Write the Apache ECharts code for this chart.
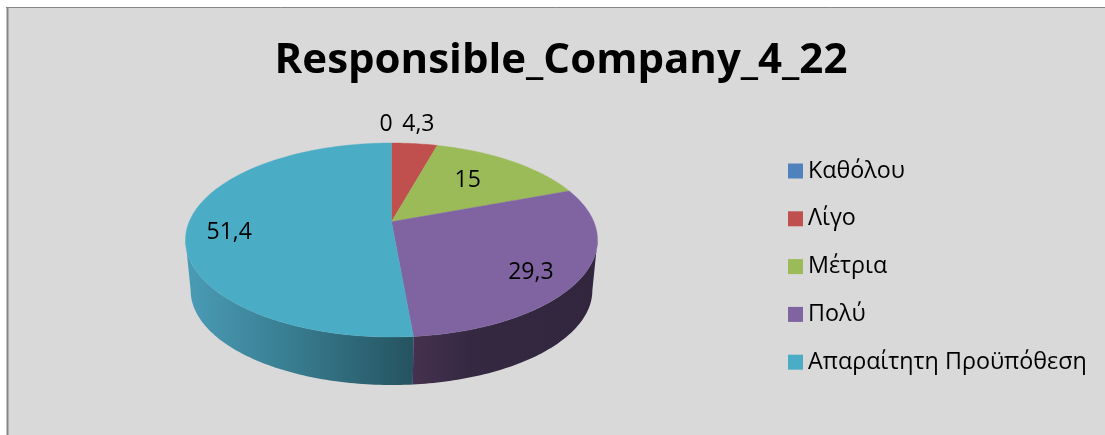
<!DOCTYPE html>
<html>
<head>
<meta charset="utf-8">
<style>html,body{margin:0;padding:0;background:#fff}#c{width:1105px;height:435px}</style>
<script src="https://cdn.jsdelivr.net/npm/echarts@6/dist/echarts.min.js"></script>
</head>
<body>
<div id="c"></div>
<script>
const chartTitle = 'Responsible_Company_4_22';
const categories = ['Καθόλου', 'Λίγο', 'Μέτρια', 'Πολύ', 'Απαραίτητη Προϋπόθεση'];
const values = [0, 4.3, 15, 29.3, 51.4];
const colors = ['#4f81bd', '#c0504d', '#9bbb59', '#8064a2', '#4bacc6'];
const wallStops = [
  null, null, null,
  ['#45314f', '#352942', '#32263e'],
  ['#4a9cb6', '#377a8d', '#25535f']
];
// Nudges from each slice's anchor point to where its label sits
const labelNudges = [[-5.5, -39.5], [10, -39.5], [-11, 3], [10.5, 13.5], [-20, 7.5]];

const FONT = '"Open Sans", sans-serif';
const TOP = { cx: 391.5, cy: 240, rx: 206, ry: 97 };
const TILT = 18.3 / 97;        // perspective strength of the pie's disc
const BASE_DROP = 50.4, BASE_SCALE = 0.975;
const RIM_LIMIT = Math.acos(-TILT);   // angle at which the rim turns away from the viewer
const total = values.reduce((a, b) => a + b, 0);

// Perspective projection of a point on the unit disc; angle is clockwise from 12 o'clock
function project(angle, r, scale, drop) {
  const u = r * Math.sin(angle), v = -r * Math.cos(angle);
  const w = 1 - TILT * v;
  const a = TOP.rx * Math.sqrt(1 - TILT * TILT);
  return [
    TOP.cx + scale * a * u / w,
    TOP.cy + drop + scale * (TOP.ry * v - TOP.ry * TILT) / w
  ];
}
function arc(from, to, scale, drop) {
  const n = Math.max(2, Math.ceil(Math.abs(to - from) / (Math.PI / 180)));
  const pts = [];
  for (let i = 0; i <= n; i++) pts.push(project(from + (to - from) * i / n, 1, scale, drop));
  return pts;
}

function renderSlice(index) {
  return function (params, api) {
    const value = api.value(0);
    const before = values.slice(0, index).reduce((a, b) => a + b, 0);
    const a0 = before / total * 2 * Math.PI;
    const a1 = (before + value) / total * 2 * Math.PI;
    const children = [];
    const lo = Math.max(a0, RIM_LIMIT), hi = Math.min(a1, 2 * Math.PI - RIM_LIMIT);
    if (wallStops[index] && hi > lo) {
      const top = arc(lo, hi, 1, 0);
      const base = arc(hi, lo, BASE_SCALE, BASE_DROP);
      const xs = top.concat(base).map(p => p[0]);
      const s = wallStops[index];
      const wallFill = {
        type: 'linear', global: true,
        x: Math.min.apply(null, xs), y: 0, x2: Math.max.apply(null, xs), y2: 0,
        colorStops: index === 3
          ? [{ offset: 0, color: s[0] }, { offset: 0.3, color: s[1] }, { offset: 1, color: s[2] }]
          : [{ offset: 0, color: s[0] }, { offset: 0.5, color: s[1] }, { offset: 1, color: s[2] }]
      };
      children.push({
        type: 'polygon',
        shape: { points: top.concat(base) },
        style: { fill: wallFill, stroke: null }
      });
    }
    if (value > 0) {
      const centre = project(0, 0, 1, 0);
      children.push({
        type: 'polygon',
        shape: { points: [centre].concat(arc(a0, a1, 1, 0)) },
        style: { fill: colors[index], stroke: colors[index], lineWidth: 0.4 }
      });
    }
    const anchor = project((a0 + a1) / 2, 0.7, 1, 0);
    children.push({
      type: 'text',
      z2: 10,
      style: {
        text: String(value).replace('.', ','),
        x: anchor[0] + labelNudges[index][0],
        y: anchor[1] + labelNudges[index][1],
        align: 'center', verticalAlign: 'middle',
        font: '23px ' + FONT, fill: '#000'
      }
    });
    return { type: 'group', children: children };
  };
}

const chart = echarts.init(document.getElementById('c'), null, { renderer: 'canvas' });
chart.setOption({
  animation: false,
  backgroundColor: '#ffffff',
  graphic: [
    { type: 'rect', z: -10, shape: { x: 7, y: 7, width: 1098, height: 428 }, style: { fill: '#d9d9d9' } },
    { type: 'line', z: -9, shape: { x1: 6, y1: 7.5, x2: 1105, y2: 7.5 }, style: { stroke: '#868686', lineWidth: 1 } },
    { type: 'line', z: -9, shape: { x1: 7.5, y1: 7, x2: 7.5, y2: 435 }, style: { stroke: '#868686', lineWidth: 2 } }
  ],
  title: {
    text: chartTitle, left: 561, top: 40, padding: 0, textAlign: 'center',
    textStyle: { fontFamily: FONT, fontSize: 42, fontWeight: 'bold', color: '#000' }
  },
  legend: {
    orient: 'vertical', left: 788, top: 159.5, padding: 0,
    itemWidth: 15, itemHeight: 15, itemGap: 24.8, icon: 'rect',
    data: categories,
    textStyle: { fontFamily: FONT, fontSize: 23.3, color: '#000', lineHeight: 20 }
  },
  series: categories.map((name, i) => ({
    type: 'custom',
    name: name,
    coordinateSystem: 'none',
    silent: true,
    itemStyle: { color: colors[i] },
    renderItem: renderSlice(i),
    data: [[values[i]]]
  }))
});
</script>
</body>
</html>
